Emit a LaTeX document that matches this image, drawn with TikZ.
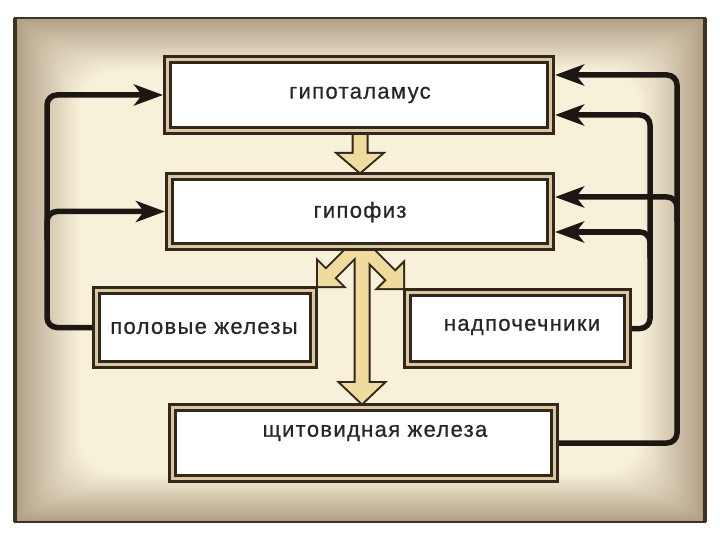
\documentclass[tikz,border=0pt]{standalone}
\usepackage{fontspec}
\setmainfont{Liberation Sans}
\usetikzlibrary{arrows.meta,calc}
\definecolor{bgedge}{HTML}{B2A086}
\definecolor{bgcenter}{HTML}{F8F1DA}
\definecolor{framek}{HTML}{3E3126}
\definecolor{boxdark}{HTML}{33261A}
\definecolor{boxgap}{HTML}{D9C9A2}
\definecolor{linek}{HTML}{1C1713}
\definecolor{hollowfill}{HTML}{EFDB9E}
\definecolor{txtc}{HTML}{262626}
\begin{document}
\begin{tikzpicture}[x=1pt,y=-1pt,
  box/.style={draw=boxdark, line width=3pt, double=boxgap, double distance=3pt,
              fill=white, inner sep=0pt, outer sep=4.5pt},
  lbl/.style={font=\fontsize{22}{26}\selectfont\addfontfeature{LetterSpace=6,FakeBold=0.6}, text=txtc, inner sep=0pt},
  conn/.style={draw=linek, line width=5.5pt, rounded corners=10pt},
  arr/.style={-{Stealth[length=29pt,width=21pt,inset=8pt]}},
  hollowline/.style={draw=boxdark, line width=4pt, line join=miter},
  hollowfillst/.style={fill=hollowfill}]
\useasboundingbox (0,0) rectangle (720,540);
\fill[white] (0,0) rectangle (720,540);
% background gradient
\foreach \i in {0,...,20}{
  \pgfmathsetmacro{\mix}{\i*5}
  \fill[bgcenter!\mix!bgedge, rounded corners=\i*2pt] (15+\i*3.2,18+\i*2.6) rectangle (705-\i*3.2,522-\i*2.4);
}
\draw[framek, line width=2pt] (15,18) rectangle (705,522);
\draw[framek, line width=3.5pt] (15,18) -- (15,522);
\draw[framek, line width=3.5pt] (705,18) -- (705,522);

% box geometry (drawn later)
\path node[minimum width=383pt, minimum height=71pt, inner sep=0pt, outer sep=4.5pt] (hyp) at (359,95) {}
      node[minimum width=381pt, minimum height=70pt, inner sep=0pt, outer sep=4.5pt] (hyp2) at (360,211.5) {}
      node[minimum width=217pt, minimum height=74pt, inner sep=0pt, outer sep=4.5pt] (pol) at (205,327.5) {}
      node[minimum width=220pt, minimum height=72pt, inner sep=0pt, outer sep=4.5pt] (nad) at (517.5,328.5) {}
      node[minimum width=382pt, minimum height=71pt, inner sep=0pt, outer sep=4.5pt] (thy) at (363.5,443) {};

% hollow arrows
\coordinate (T1) at (hyp2.north);
\coordinate (T2) at ($(hyp2.south |- thy.north)+(2,0)$);
\coordinate (T3) at (pol.north east);
\coordinate (T4) at (nad.north west);
\foreach \st in {hollowline, hollowfillst}{
  \path[\st] ($(T1)+(-6.5,-45)$) -- ($(T1)+(-6.5,-18)$) -- ($(T1)+(-21,-18)$) -- (T1)
     -- ($(T1)+(21,-18)$) -- ($(T1)+(6.5,-18)$) -- ($(T1)+(6.5,-45)$) -- cycle;
  \path[\st] ($(T2)+(-6.5,-158)$) -- ($(T2)+(-6.5,-20)$) -- ($(T2)+(-21,-20)$) -- (T2)
     -- ($(T2)+(21,-20)$) -- ($(T2)+(6.5,-20)$) -- ($(T2)+(6.5,-158)$) -- cycle;
  \path[\st] ($(T3)+(45.2,-36.8)$) -- ($(T3)+(16.2,-7.8)$) -- ($(T3)+(24,0)$) -- (T3)
     -- ($(T3)+(0,-24)$) -- ($(T3)+(7.8,-16.2)$) -- ($(T3)+(36.8,-45.2)$) -- cycle;
  \path[\st] ($(T4)+(-45.2,-36.8)$) -- ($(T4)+(-16.2,-7.8)$) -- ($(T4)+(-24,0)$) -- (T4)
     -- ($(T4)+(0,-24)$) -- ($(T4)+(-7.8,-16.2)$) -- ($(T4)+(-36.8,-45.2)$) -- cycle;
}

% feedback connectors
\coordinate (L1) at (47,95);
\coordinate (L2) at (47,240);
\coordinate (R1) at (677,75);
\coordinate (R2) at (650,115);
\coordinate (R3) at (677,222);
\coordinate (R4) at (650,258);
\draw[conn,arr] (pol.west) -| (L1) -- (hyp.west);
\draw[conn,arr] (L2) |- (hyp2.west);
\draw[conn,arr] (thy.east) -| (R1) -- (R1 -| hyp.east);
\draw[conn,arr] (nad.east) -| (R2) -- (R2 -| hyp.east);
\draw[conn,arr] (R3) |- ($(hyp2.east)+(0,-14.5)$);
\draw[conn,arr] (R4) |- ($(hyp2.east)+(0,20.5)$);

% boxes
\node[box, minimum width=383pt, minimum height=71pt] (hypB) at (hyp) {};
\node[box, minimum width=381pt, minimum height=70pt] (hyp2B) at (hyp2) {};
\node[box, minimum width=217pt, minimum height=74pt] (polB) at (pol) {};
\node[box, minimum width=220pt, minimum height=72pt] (nadB) at (nad) {};
\node[box, minimum width=382pt, minimum height=71pt] (thyB) at (thy) {};

% labels
\node[lbl] (hypT) at (360,95) {гипоталамус};
\node[lbl] (hyp2T) at (360,212) {гипофиз};
\node[lbl] (polT) at (204,328) {половые железы};
\node[lbl] (nadT) at (522,327) {надпочечники};
\node[lbl] (thyT) at (375,433) {щитовидная железа};
\end{tikzpicture}
\end{document}
